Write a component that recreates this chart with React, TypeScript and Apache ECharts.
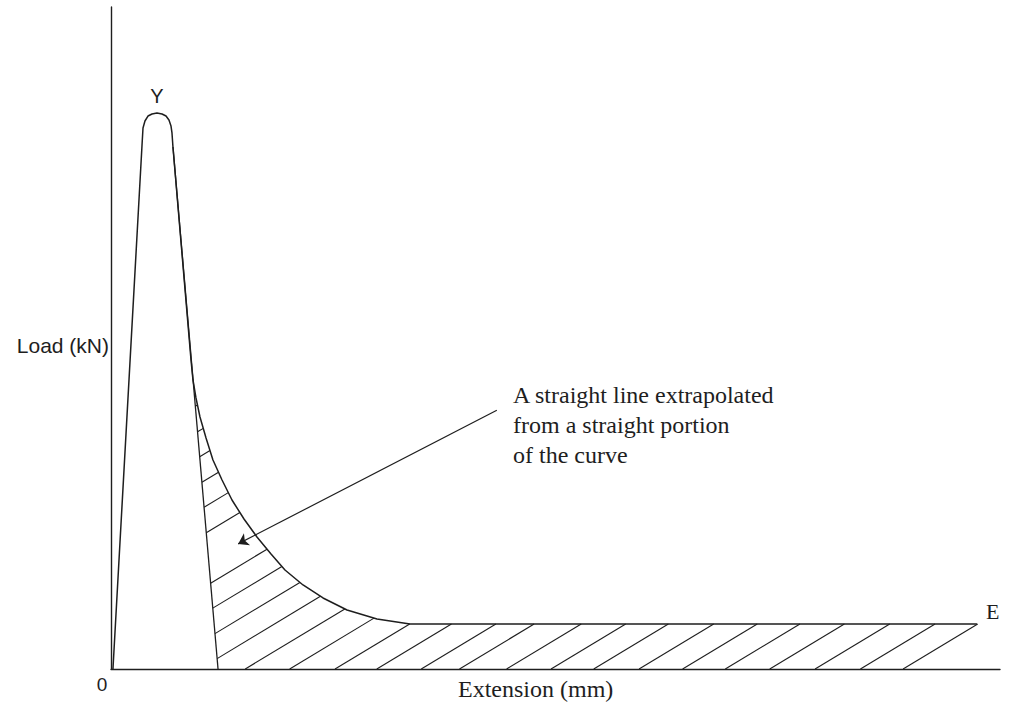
import React, { useEffect, useRef } from "react";
import * as echarts from "echarts";

// Load–extension curve: elastic rise, rounded yield peak Y, necking decay, flat tail to E
const extension = [
  0.22, 3.49, 3.6, 3.82, 4.16, 4.61, 5.17, 5.74, 6.19, 6.52, 6.75, 6.86, 6.97,
  9.0, 9.22, 9.56, 10.01, 10.69, 11.47, 12.49, 13.61, 14.96, 16.42, 18.0, 19.57,
  21.6, 23.85, 26.55, 29.92, 33.63, 97.41,
];
const load = [
  0, 79.15, 81.72, 82.78, 83.53, 83.84, 83.99, 83.84, 83.53, 82.93, 82.02, 80.97,
  78.85, 46.68, 43.66, 40.94, 38.07, 34.89, 31.57, 28.55, 25.53, 22.66, 19.94,
  17.37, 14.95, 12.69, 10.73, 8.91, 7.55, 6.8, 6.8,
];

// Straight line extended from the straight falling part of the curve
const tangentExt = [6.97, 12.04];
const tangentLoad = [78.85, 0];

// Hatching: where each hatch line (extended) meets load = 0, and its slope
const hatchOffsets = [
  -39.5, -34.5, -29.6, -24.6, -19.7, -14.7, -4.8, 0.1, 5.1, 10.0, 15.1, 20.1,
  25.2, 29.9, 34.9, 39.2, 44.5, 49.5, 54.3, 59.4, 64.3, 69.1, 74.1, 79.2, 84.3,
  89.1,
];
const hatchSlope = 0.81;

// Annotation arrow: tail near the note, head inside the hatched area
const arrowExt = [43.4, 14.3];
const arrowLoad = [39.1, 18.9];

const noteLines = [
  "A straight line extrapolated",
  "from a straight portion",
  "of the curve",
];

function hatchSegments(): number[][][] {
  const xFoot = tangentExt[1];
  const k = (tangentExt[1] - tangentExt[0]) / (tangentLoad[0] - tangentLoad[1]);
  let peak = 0;
  for (let i = 1; i < load.length; i++) if (load[i] > load[peak]) peak = i;
  const segs: number[][][] = [];
  for (const b of hatchOffsets) {
    let sx: number, sy: number;
    if (b >= xFoot) {
      sx = b;
      sy = 0;
    } else {
      sy = (xFoot - b) / (1 / hatchSlope + k);
      sx = b + sy / hatchSlope;
    }
    let ex = NaN, ey = NaN;
    for (let i = peak; i < extension.length - 1; i++) {
      const ax = extension[i], ay = load[i];
      const bx = extension[i + 1], by = load[i + 1];
      const fa = ay - hatchSlope * (ax - b);
      const fb = by - hatchSlope * (bx - b);
      if (fa >= 0 && fb <= 0 && fa - fb > 0) {
        const t = fa / (fa - fb);
        ex = ax + t * (bx - ax);
        ey = ay + t * (by - ay);
        break;
      }
    }
    if (isNaN(ex)) {
      ey = load[load.length - 1];
      ex = b + ey / hatchSlope;
    }
    segs.push([[sx, sy], [ex, ey]]);
  }
  return segs;
}

const INK = "#1e1e1e";
const SERIF = "'Liberation Serif', 'Times New Roman', serif";
const SANS = "'Liberation Sans', Arial, sans-serif";

export default function App() {
  const ref = useRef<HTMLDivElement>(null);

  useEffect(() => {
    if (!ref.current) return;
    const chart = echarts.init(ref.current, null, { renderer: "svg" });
    const curve = extension.map((x, i) => [x, load[i]]);
    const tangent = tangentExt.map((x, i) => [x, tangentLoad[i]]);

    chart.setOption({
      animation: false,
      backgroundColor: "#ffffff",
      grid: { left: 111, right: 9, top: 7, bottom: 38 },
      xAxis: {
        type: "value",
        min: 0,
        max: 100,
        axisLine: { show: true, onZero: false, lineStyle: { color: INK, width: 1.4 } },
        axisTick: { show: false },
        axisLabel: { show: false },
        splitLine: { show: false },
      },
      yAxis: {
        type: "value",
        min: 0,
        max: 100,
        axisLine: { show: true, onZero: false, lineStyle: { color: INK, width: 1.4 } },
        axisTick: { show: false },
        axisLabel: { show: false },
        splitLine: { show: false },
      },
      series: [
        {
          type: "line",
          data: curve,
          showSymbol: false,
          smooth: false,
          lineStyle: { color: INK, width: 1.5 },
          z: 3,
        },
        {
          type: "line",
          data: tangent,
          showSymbol: false,
          lineStyle: { color: INK, width: 1.3 },
          z: 3,
        },
        {
          type: "lines",
          coordinateSystem: "cartesian2d",
          data: hatchSegments().map((c) => ({ coords: c })),
          lineStyle: { color: INK, width: 1.1, opacity: 1 },
          z: 2,
        },
        {
          type: "lines",
          coordinateSystem: "cartesian2d",
          symbol: ["none", "arrow"],
          symbolSize: 10,
          data: [
            {
              coords: [
                [arrowExt[0], arrowLoad[0]],
                [arrowExt[1], arrowLoad[1]],
              ],
            },
          ],
          lineStyle: { color: INK, width: 1.2, opacity: 1 },
          z: 4,
        },
      ],
      graphic: [
        {
          type: "text",
          x: 157,
          y: 96,
          style: { text: "Y", font: `20px ${SANS}`, fill: INK, textAlign: "center", textVerticalAlign: "middle" },
        },
        {
          type: "text",
          x: 986,
          y: 611,
          style: { text: "E", font: `22px ${SERIF}`, fill: INK, textAlign: "left", textVerticalAlign: "middle" },
        },
        {
          type: "text",
          x: 102,
          y: 684,
          style: { text: "0", font: `19px ${SANS}`, fill: INK, textAlign: "center", textVerticalAlign: "middle" },
        },
        {
          type: "text",
          x: 109,
          y: 345,
          style: { text: "Load (kN)", font: `21px ${SANS}`, fill: INK, textAlign: "right", textVerticalAlign: "middle" },
        },
        {
          type: "text",
          x: 458,
          y: 689,
          style: { text: "Extension (mm)", font: `24px ${SERIF}`, fill: INK, textAlign: "left", textVerticalAlign: "middle" },
        },
        ...noteLines.map((t, i) => ({
          type: "text",
          x: 513,
          y: 395 + i * 30,
          style: { text: t, font: `24px ${SERIF}`, fill: INK, textAlign: "left", textVerticalAlign: "middle" },
        })),
      ],
    });

    return () => chart.dispose();
  }, []);

  return (
    <div
      ref={ref}
      style={{ position: "absolute", left: 0, top: 0, width: 1009, height: 707, background: "#fff" }}
    />
  );
}
